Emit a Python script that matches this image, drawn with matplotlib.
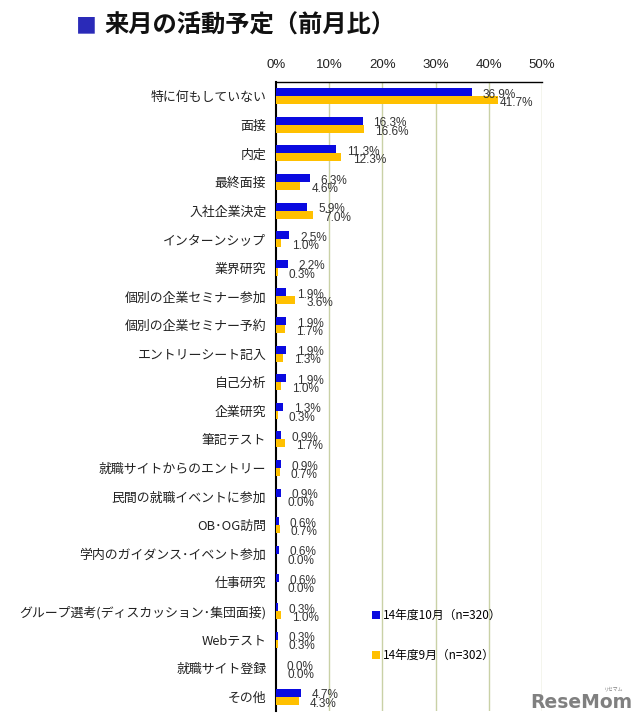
import matplotlib
matplotlib.use('Agg')
import matplotlib.pyplot as plt
import numpy as np

plt.rcParams['font.family'] = ['Noto Sans CJK JP', 'DejaVu Sans']

categories = ['特に何もしていない', '面接', '内定', '最終面接', '入社企業決定',
              'インターンシップ', '業界研究', '個別の企業セミナー参加',
              '個別の企業セミナー予約', 'エントリーシート記入', '自己分析',
              '企業研究', '筆記テスト', '就職サイトからのエントリー',
              '民間の就職イベントに参加', 'OB･OG訪問', '学内のガイダンス･イベント参加',
              '仕事研究', 'グループ選考(ディスカッション･集団面接)', 'Webテスト',
              '就職サイト登録', 'その他']
oct_vals = [36.9, 16.3, 11.3, 6.3, 5.9, 2.5, 2.2, 1.9, 1.9, 1.9, 1.9,
            1.3, 0.9, 0.9, 0.9, 0.6, 0.6, 0.6, 0.3, 0.3, 0.0, 4.7]
sep_vals = [41.7, 16.6, 12.3, 4.6, 7.0, 1.0, 0.3, 3.6, 1.7, 1.3, 1.0,
            0.3, 1.7, 0.7, 0.0, 0.7, 0.0, 0.0, 1.0, 0.3, 0.0, 4.3]
series_names = ['14年度10月（n=320）', '14年度9月（n=302）']
x_ticks = [0, 10, 20, 30, 40, 50]

BLUE = '#0a0ae0'
ORANGE = '#ffc000'
GRID = '#c9d1a6'

fig = plt.figure(figsize=(6.4, 7.27), dpi=100)
ax = fig.add_axes([276 / 640, 1 - 711 / 727, 266 / 640, 629 / 727])

y = np.arange(len(categories))
h = 0.28
b1 = ax.barh(y - h / 2, oct_vals, height=h, color=BLUE, label=series_names[0], zorder=3)
b2 = ax.barh(y + h / 2, sep_vals, height=h, color=ORANGE, label=series_names[1], zorder=3)

for i, (a, b) in enumerate(zip(oct_vals, sep_vals)):
    ax.text(min(a + 2.0, 42.0), i - 0.05, '%.1f%%' % a, fontsize=8.5, color='#333333',
            family='Liberation Sans', ha='left', va='center', zorder=4, clip_on=False)
    ax.text(min(b + 2.1, 42.0), i + 0.24, '%.1f%%' % b, fontsize=8.5, color='#333333',
            family='Liberation Sans', ha='left', va='center', zorder=4, clip_on=False)

ax.set_xlim(0, 50)
ax.set_ylim(len(categories) - 0.5, -0.5)
ax.set_xticks(x_ticks)
ax.set_xticklabels(['%d%%' % t for t in x_ticks], family='Liberation Sans', fontsize=9.5)
ax.xaxis.tick_top()
ax.tick_params(axis='x', length=0, pad=8, colors='#222222')
ax.set_yticks(y)
ax.set_yticklabels(categories, fontsize=9.3, color='#222222')
ax.tick_params(axis='y', length=0, pad=7)

for t in x_ticks[1:]:
    ax.axvline(t, color=GRID, lw=1, zorder=1)
ax.spines['bottom'].set_visible(False)
ax.spines['right'].set_visible(False)
ax.spines['left'].set_linewidth(1.5)
ax.spines['top'].set_linewidth(1.0)

ax.legend(handles=[b1, b2], loc='upper left', bbox_to_anchor=(372 / 640, 1 - 609 / 727),
          bbox_transform=fig.transFigure, frameon=False, fontsize=8.5,
          handlelength=0.7, handleheight=0.7, handletextpad=0.2, labelspacing=2.3,
          borderpad=0, borderaxespad=0)

fig.text(76 / 640, 1 - 26 / 727, '■', fontsize=15, color='#2a2ab8', va='center', ha='left')
fig.text(104 / 640, 1 - 26 / 727, '来月の活動予定（前月比）', fontsize=17.5, weight='bold',
         color='#111111', va='center', ha='left')

fig.text(530 / 640, 1 - 702 / 727, 'ReseMom', fontsize=13.5, weight='bold', color='#808080',
         va='center', ha='left', family='DejaVu Sans')
fig.text(604 / 640, 1 - 689 / 727, 'リセマム', fontsize=3.5, color='#808080',
         va='center', ha='left')

fig.savefig('out.png', dpi=100)
